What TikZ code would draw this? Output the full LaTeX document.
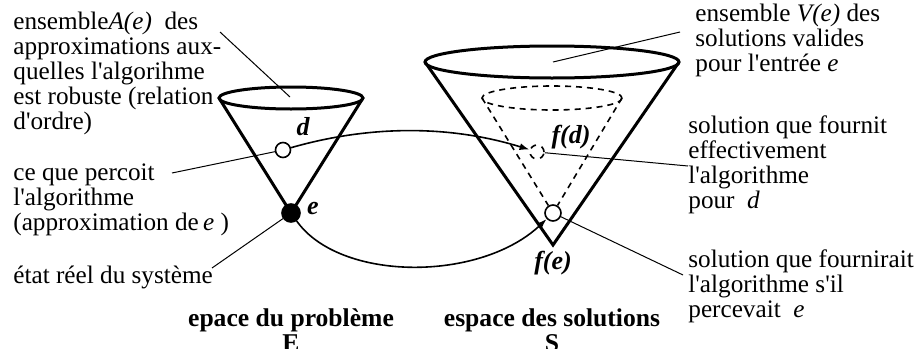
\documentclass[tikz,border=0pt]{standalone}
\usepackage{fontspec}
\setmainfont{Liberation Serif}
\usetikzlibrary{arrows.meta}
\newcommand{\ap}{\textquotesingle}

\begin{document}
\begin{tikzpicture}[
    x=0.5pt, y=-0.5pt,
    every node/.style={font=\fontsize{12.6}{12.5}\selectfont},
    cone/.style={line width=1.5pt, line join=miter},
    inner/.style={line width=0.8pt, dash pattern=on 3pt off 2.5pt},
    leader/.style={line width=0.5pt},
    flow/.style={line width=0.8pt, -{Latex[length=5pt,width=3.5pt]}},
    dot/.style={circle, draw, line width=0.8pt, minimum size=7.5pt, inner sep=0pt},
    lbl/.style={inner sep=0pt, font=\fontsize{13}{12.5}\selectfont\bfseries\itshape},
    note/.style={align=left, anchor=west, inner sep=0pt},
    title/.style={align=center, inner sep=0pt, font=\fontsize{12.8}{12.5}\selectfont\bfseries}
]
\useasboundingbox (0,0) rectangle (924,348);

% points
\node[dot, fill=black, minimum size=9pt] (e) at (291,213) {};
\node[dot] (d) at (283,150) {};
\node[dot, dashed, minimum size=7pt] (fd) at (537,152) {};
\node[dot, minimum size=8pt] (fe) at (553,213) {};

% problem cone
\draw[cone] (291,98) ellipse [x radius=72, y radius=11];
\draw[cone] (219,98) -- (e.center) -- (363,98);

% solution cone
\draw[cone] (552,62) ellipse [x radius=127, y radius=16];
\draw[cone] (425,62) -- (553,245) -- (679,62);

% robust solutions (dashed)
\draw[inner] (552,98) ellipse [x radius=70, y radius=12];
\draw[inner] (482,98) -- (fe);
\draw[inner] (622,98) -- (fe);

% point labels
\node[lbl] (dlbl) at (303,127) {d};
\node[lbl] (elbl) at (313,208) {e};
\node[lbl] (fdlbl) at (571,137) {f(d)};
\node[lbl] (felbl) at (553,263) {f(e)};

% mappings
\draw[flow] (d) .. controls (370,125) and (450,125) .. (fd);
\draw[flow] (e) .. controls (340,282) and (480,282) .. (fe);

% notes (left)
\node[note] (aset) at (13,73) {ensemble\textit{A(e)}\ \ des\\approximations aux-\\quelles l\ap algorihme\\est robuste (relation\\d\ap ordre)};
\node[note] (percu) at (13,200) {ce que percoit\\l\ap algorithme\\(approximation de\,\textit{e} )};
\node[note] (reel) at (13,277) {état réel du système};

% notes (right)
\node[note] (vset) at (695,40) {ensemble \textit{V(e)} des\\solutions valides\\pour l\ap entrée \textit{e}};
\node[note] (fourn) at (688,165) {solution que fournit\\effectivement\\l\ap algorithme\\pour \ \textit{d}};
\node[note] (fournr) at (688,286) {solution que fournirait\\l\ap algorithme s\ap il\\percevait \ \textit{e}};

% titles
\node[title] (espE) at (291,330) {epace du problème\\E};
\node[title] (espS) at (552,330) {espace des solutions\\S};

% leaders
\coordinate (a0) at (220,32);
\coordinate (a1) at (290,97);
\coordinate (p0) at (172,173);
\coordinate (r0) at (212,268);
\coordinate (v0) at (680,32);
\coordinate (v1) at (553,62);
\coordinate (f0) at (688,166);
\coordinate (g0) at (683,275);
\draw[leader] (a0) -- (a1);
\draw[leader] (p0) -- (d);
\draw[leader] (r0) -- (e);
\draw[leader] (v0) -- (v1);
\draw[leader] (f0) -- (fd);
\draw[leader] (g0) -- (fe);
\end{tikzpicture}
\end{document}
